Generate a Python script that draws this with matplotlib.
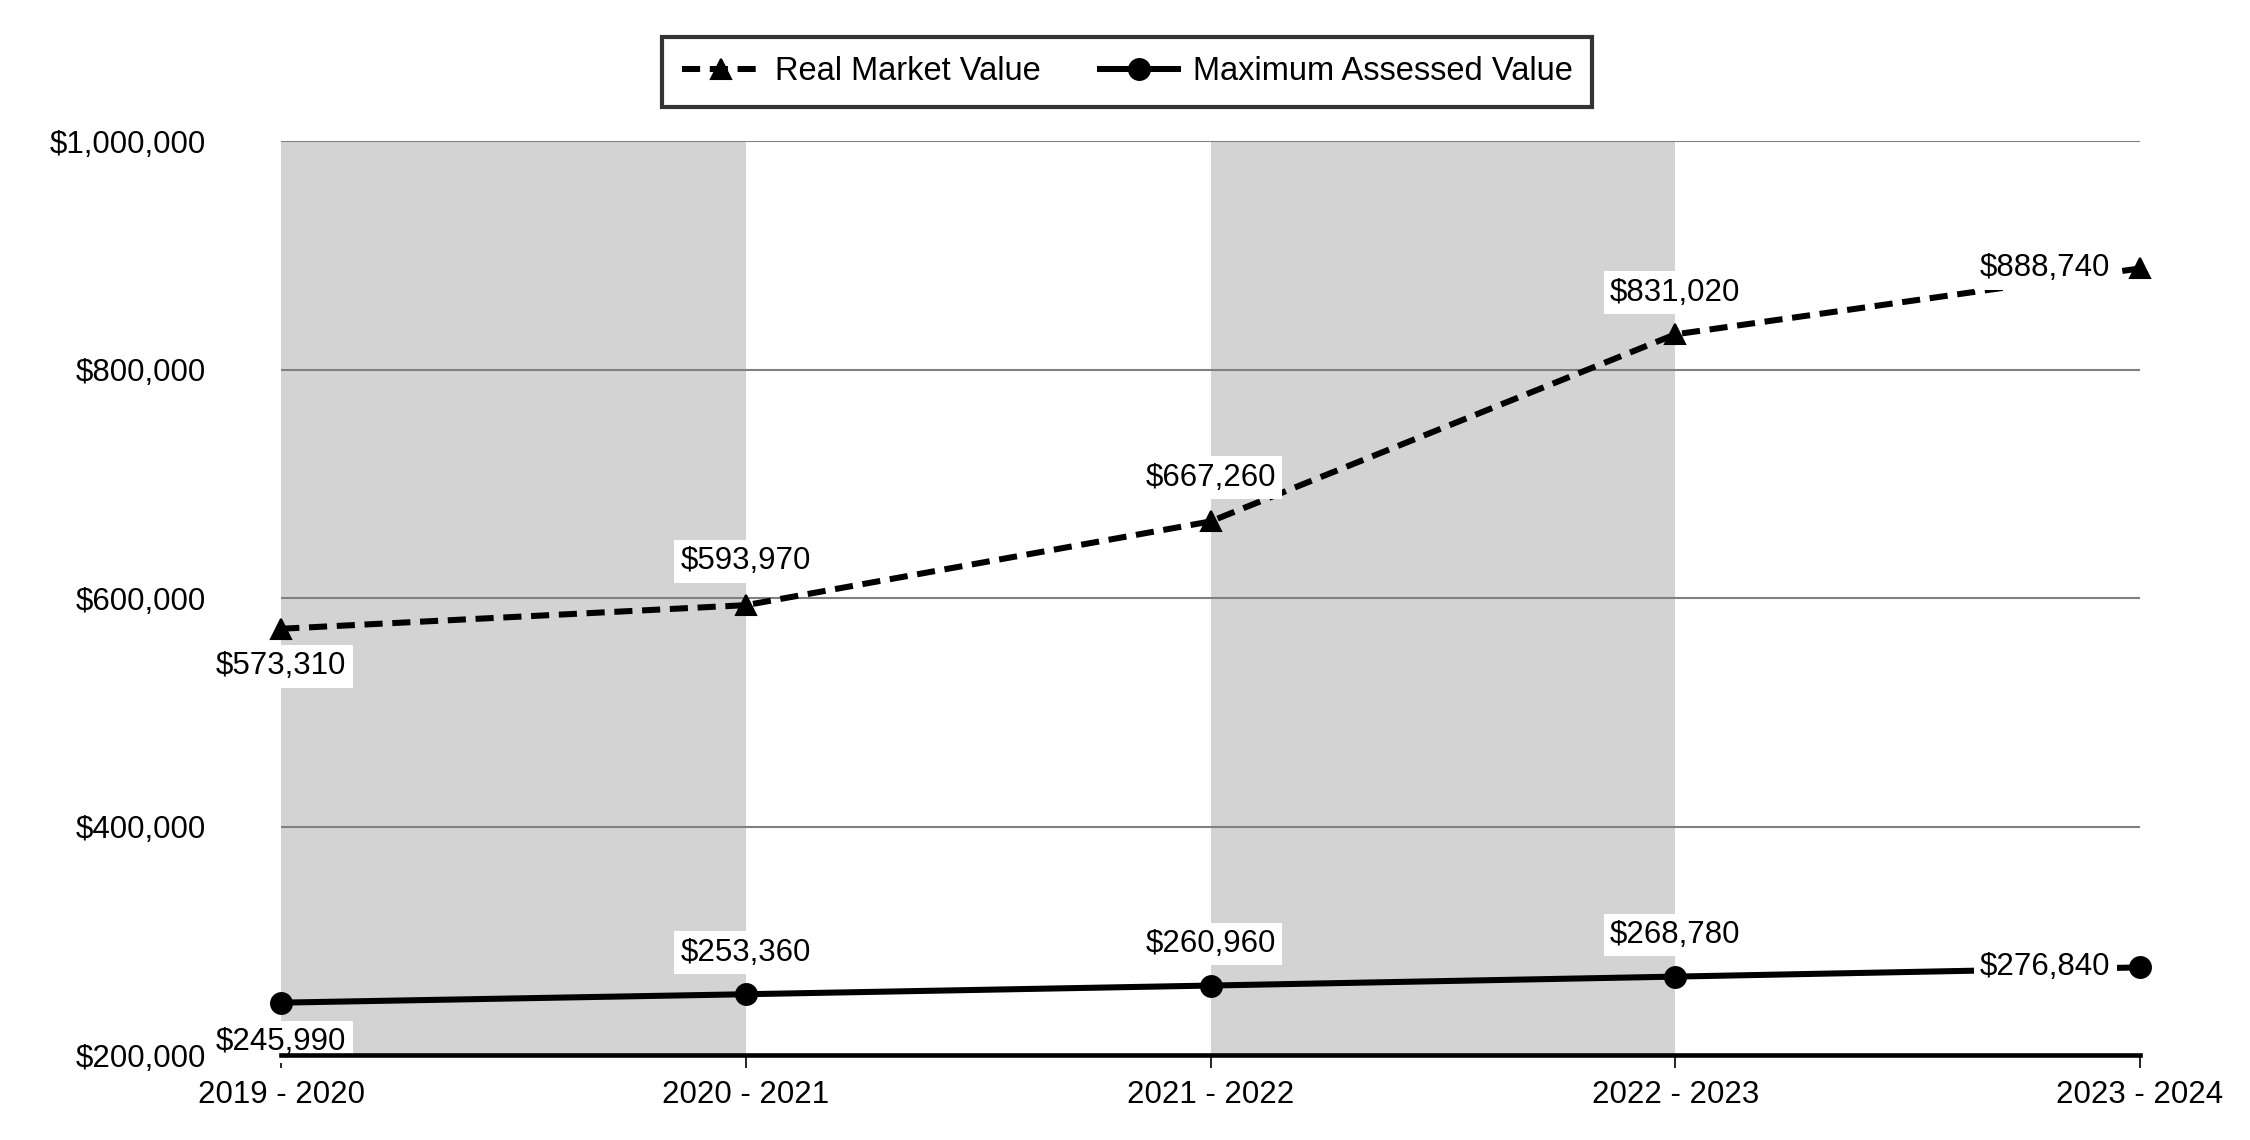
import matplotlib.pyplot as plt
from matplotlib.ticker import FuncFormatter

plt.rcParams['font.family'] = ['Liberation Sans', 'DejaVu Sans']

# data
years = ['2019 - 2020', '2020 - 2021', '2021 - 2022', '2022 - 2023', '2023 - 2024']
real_market = [573310, 593970, 667260, 831020, 888740]
max_assessed = [245990, 253360, 260960, 268780, 276840]

# label placement per point: (dx, dy) in points, horizontal alignment
rmv_offsets = [(0, -18, 'center'), (0, 21, 'center'), (0, 21, 'center'), (0, 20, 'center'), (-14, 0, 'right')]
mav_offsets = [(0, -19, 'center'), (0, 20, 'center'), (0, 20, 'center'), (0, 20, 'center'), (-14, 0, 'right')]

fig = plt.figure(figsize=(15, 7.6), dpi=150)
ax = fig.add_axes([0.125, 0.0744, 0.826, 0.8016])

x = list(range(len(years)))

# alternating gray bands
for i in range(0, len(years) - 1, 2):
    ax.axvspan(x[i], x[i + 1], color='#d3d3d3', lw=0, zorder=0)

ax.set_ylim(200000, 1000000)
ax.set_xlim(x[0], x[-1])
ax.set_yticks([200000, 400000, 600000, 800000, 1000000])
ax.yaxis.set_major_formatter(FuncFormatter(lambda v, p: '${:,.0f}'.format(v)))
ax.grid(axis='y', color='#808080', lw=1.0, zorder=1)
ax.set_axisbelow(True)

ax.plot(x, real_market, color='black', ls=(0, (3, 1.6)), lw=2.9, marker='^', ms=10,
        label='Real Market Value', zorder=3, clip_on=False)
ax.plot(x, max_assessed, color='black', ls='-', lw=2.9, marker='o', ms=10,
        label='Maximum Assessed Value', zorder=3, clip_on=False)

box = dict(facecolor='white', edgecolor='none', pad=3)
for xi, v, (dx, dy, ha) in zip(x, real_market, rmv_offsets):
    ax.annotate('${:,.0f}'.format(v), (xi, v), xytext=(dx, dy), textcoords='offset points',
                ha=ha, va='center', fontsize=15, bbox=box, zorder=4, annotation_clip=False)
for xi, v, (dx, dy, ha) in zip(x, max_assessed, mav_offsets):
    ax.annotate('${:,.0f}'.format(v), (xi, v), xytext=(dx, dy), textcoords='offset points',
                ha=ha, va='center', fontsize=15, bbox=box, zorder=4, annotation_clip=False)

ax.set_xticks(x)
ax.set_xticklabels(years)
for s in ['top', 'right', 'left']:
    ax.spines[s].set_visible(False)
ax.spines['bottom'].set_linewidth(2.2)
ax.spines['bottom'].set_zorder(5)
ax.tick_params(axis='y', length=0, pad=36, labelsize=15)
ax.tick_params(axis='x', length=6, width=0.8, pad=6, labelsize=15)

leg = fig.legend(loc='center', bbox_to_anchor=(0.501, 0.937), ncol=2, fontsize=15.7,
                 frameon=True, fancybox=False, edgecolor='black', handlelength=2.4,
                 handletextpad=0.45, columnspacing=1.8, borderpad=0.6, borderaxespad=0)
leg.get_frame().set_linewidth(2.0)

fig.savefig('out.png', dpi=150, facecolor='white')
